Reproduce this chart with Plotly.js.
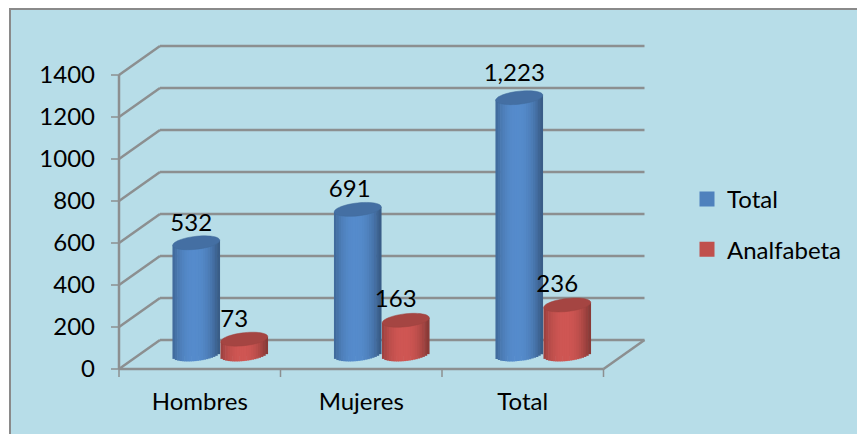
<!DOCTYPE html>
<html><head><meta charset="utf-8">
<script src="https://cdn.plot.ly/plotly-3.0.1.min.js"></script>
<style>html,body{margin:0;padding:0;background:#fff}#c{width:857px;height:434px}</style>
</head><body><div id="c"></div>
<script>
var categories = ['Hombres','Mujeres','Total'];
var totalValues = [532,691,1223];
var analfabetaValues = [73,163,236];
var yTicks = [0,200,400,600,800,1000,1200,1400];
var seriesNames = ['Total','Analfabeta'];
var seriesColors = ['#4f81bd','#c0504d'];

// pixel geometry of the pseudo-3D frame
var W=857,H=434, L=110,R=648,T=42,B=380;
var x0px=119, catPx=161.5, y0px=369, valPx=0.21;
var depthX=41, depthY=29;
var xr=[(L-x0px)/catPx-0.5,(R-x0px)/catPx-0.5];
var yr=[(y0px-B)/valPx,(y0px-T)/valPx];
var dX=depthX/catPx, dY=depthY/valPx;
var GRID='#8c8f90';
var labelShiftX=[[-5,-8,-5],[-10,-10,-10]], labelLift=[[18,18,23],[18,19,19]];
function dx(p){return p/catPx} function dy(p){return p/valPx}
function px(p){return (p-L)/(R-L)} function py(p){return (B-p)/(B-T)}

var shapes=[
 {type:'rect',xref:'paper',yref:'paper',x0:px(10),x1:px(W+10),y0:py(H+10),y1:py(9),layer:'below',
  fillcolor:'#b7dde8',line:{color:'#8a8a8a',width:2}}
];
function seg(x0,y0,x1,y1,w){shapes.push({type:'line',layer:'below',xref:'x',yref:'y',x0:x0,y0:y0,x1:x1,y1:y1,line:{color:GRID,width:w||2.5}})}
yTicks.forEach(function(v){
  seg(-0.5,v,-0.5+dX,v+dY);
  seg(-0.5+dX,v+dY,2.5+dX,v+dY);
  seg(-0.5-dx(8),v,-0.5,v,1.5);
});
seg(-0.5,0,-0.5,1400,2.5);
seg(-0.5,0,2.5,0,2.5);
seg(2.5,0,2.5+dX,dY);
[-0.5,0.5,1.5,2.5].forEach(function(c){seg(c,0,c,-dy(8),1.5)});

function shade(hex,k){
  var n=parseInt(hex.slice(1),16),r=n>>16,g=n>>8&255,b=n&255;
  return 'rgb('+Math.round(r*k)+','+Math.round(g*k)+','+Math.round(b*k)+')';
}
var barPx=47, rx=barPx/2, ry=6.5, tilt=2.5, N=20;
var baseV=dy(depthY/2), shiftX=dx(depthX/2);
var offs=[-24,24];
var traces=[];
function capPath(cx,cy){ // sampled ellipse in data units
  var p=[];
  for(var i=0;i<48;i++){
    var a=i/48*2*Math.PI,t=Math.cos(a);
    p.push((i?'L':'M')+(cx+dx(rx*t))+','+(cy+dy(ry*Math.sin(a)+tilt*t)));
  }
  return p.join(' ')+' Z';
}
[totalValues,analfabetaValues].forEach(function(vals,s){
  var xs=categories.map(function(_,i){return i+shiftX+dx(offs[s])});
  traces.push({type:'bar',name:seriesNames[s],legendgroup:seriesNames[s],x:xs,y:vals,base:vals.map(function(){return baseV}),
    width:dx(30),marker:{color:seriesColors[s],line:{color:seriesColors[s],width:3}},showlegend:true,hoverinfo:'y+name'});
  for(var j=0;j<N;j++){
    var t=(j+0.5)/N*2-1;
    var h=Math.sqrt(1-t*t);
    var k=0.72+0.36*Math.pow(Math.max(0,1-Math.pow(Math.abs(t+0.08),2.2)),0.9);
    traces.push({type:'bar',showlegend:false,hoverinfo:'skip',
      x:xs.map(function(c){return c+dx(rx*t)}),
      y:vals.map(function(v){return v+dy(ry*h)}),
      base:vals.map(function(){return baseV-dy(ry*h)+dy(tilt*t)}),
      width:dx(barPx/N*1.25),marker:{color:shade(seriesColors[s],k),line:{width:0}}});
  }
  vals.forEach(function(v,i){
    shapes.push({type:'path',layer:'above',xref:'x',yref:'y',path:capPath(xs[i],baseV+v),
      fillcolor:shade(seriesColors[s],0.86),line:{color:shade(seriesColors[s],0.82),width:0.5}});
  });
  traces.push({type:'scatter',mode:'text',showlegend:false,hoverinfo:'skip',cliponaxis:false,
    x:xs.map(function(c,i){return c+dx(labelShiftX[s][i])}),
    y:vals.map(function(v,i){return v+baseV+dy(labelLift[s][i])}),
    text:vals.map(function(v){return v.toLocaleString('en-US')}),
    textposition:'middle center',textfont:{family:'Lato, Carlito, sans-serif',size:24,color:'#000'}});
});

var layout={
  width:W,height:H,margin:{l:L,r:W-R,t:T,b:H-B,pad:0,autoexpand:false},autosize:false,
  paper_bgcolor:'#ffffff',plot_bgcolor:'rgba(0,0,0,0)',barmode:'overlay',
  font:{family:'Lato, Carlito, sans-serif',size:24,color:'#000'},
  xaxis:{type:'linear',range:xr,tickmode:'array',tickvals:[0,1,2],ticktext:categories,
    showgrid:false,zeroline:false,showline:false,ticks:'',ticklabelstandoff:5,automargin:false,
    tickfont:{size:24,color:'#000'}},
  yaxis:{type:'linear',range:yr,tickmode:'array',tickvals:yTicks,ticktext:yTicks.map(String),
    showgrid:false,zeroline:false,showline:false,ticks:'',ticklabelstandoff:14,automargin:false,
    tickfont:{size:24,color:'#000'}},
  legend:{x:px(693),xanchor:'left',y:py(177),yanchor:'top',bgcolor:'rgba(0,0,0,0)',
    font:{size:24,color:'#000'},tracegroupgap:16,traceorder:'grouped',itemwidth:30,indentation:-6},
  shapes:shapes
};
Plotly.newPlot('c',traces,layout,{displayModeBar:false,staticPlot:true});
</script></body></html>
